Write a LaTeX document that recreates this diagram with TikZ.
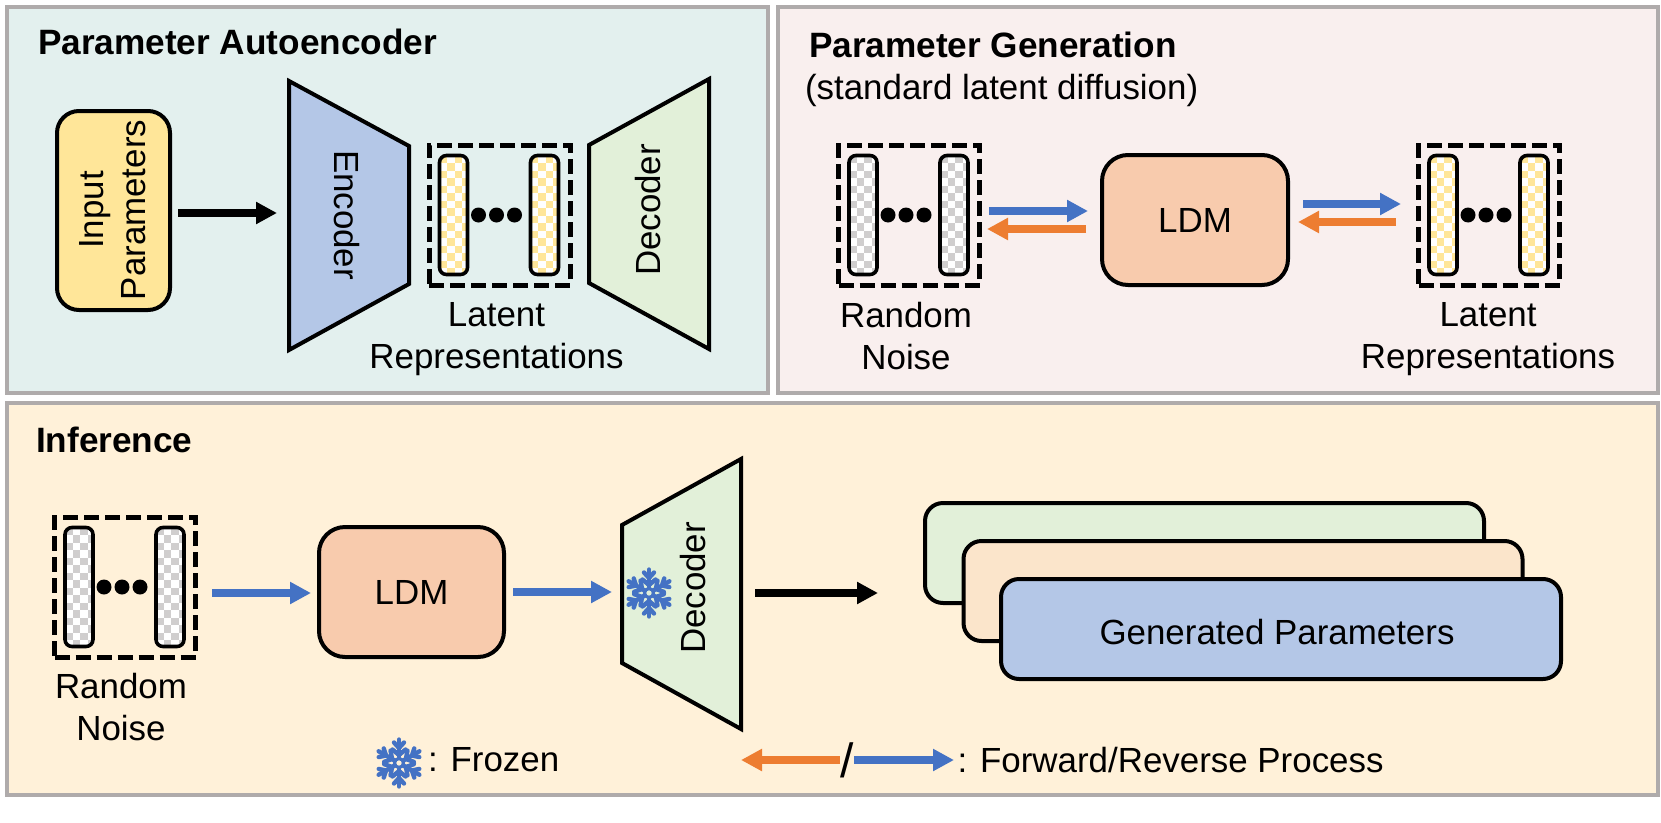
\documentclass[tikz,border=0pt]{standalone}
\usepackage{fontspec}
\setmainfont{Liberation Sans}
\usepackage{tikz}
\usetikzlibrary{arrows.meta,positioning,calc}

\definecolor{panelline}{HTML}{AFABAB}
\definecolor{paneltea}{HTML}{E3F0EE}
\definecolor{panelrose}{HTML}{F9EFEE}
\definecolor{panelcream}{HTML}{FFF1D9}
\definecolor{encblue}{HTML}{B4C7E7}
\definecolor{decgreen}{HTML}{E2F0D9}
\definecolor{inputyellow}{HTML}{FFE699}
\definecolor{ldmorange}{HTML}{F8CBAD}
\definecolor{stackpeach}{HTML}{FBE5CB}
\definecolor{checkgray}{HTML}{D0CECE}
\definecolor{fwdblue}{HTML}{4472C4}
\definecolor{revorange}{HTML}{ED7D31}

\tikzset{
  every node/.style={font=\fontsize{34.9}{41.5}\selectfont, inner sep=0pt, outer sep=0pt, align=center},
  title/.style={font=\fontsize{35.2}{41.5}\selectfont\bfseries, anchor=base west},
  plain/.style={anchor=base west},
  panel/.style={draw=panelline, line width=4pt},
  block/.style={draw=black, line width=4pt, rounded corners=#1},
  trap/.style={draw=black, line width=4pt, miter limit=10},
  dashbox/.style={draw=black, line width=5pt, dash pattern=on 15pt off 6pt, minimum width=141pt, minimum height=140pt},
  blackarrow/.style={draw=black, line width=7.5pt, -{Triangle[length=21pt,width=21pt]}},
  fwdarrow/.style={draw=fwdblue, line width=7.5pt, -{Triangle[length=21pt,width=21pt]}},
  revarrow/.style={draw=revorange, line width=7.5pt, -{Triangle[length=21pt,width=21pt]}},
  pics/snowflake/.style={code={
    \foreach \a in {30,90,150,210,270,330} {
      \begin{scope}[rotate=\a, draw=fwdblue, line width=4.4pt, line cap=round]
        \draw (6,0) -- (23.5,0);
        \draw (13.5,6.5) -- (8,0) -- (13.5,-6.5);
        \draw (20.5,5) -- (15,0) -- (20.5,-5);
      \end{scope}
    }
    \draw[fwdblue, line width=3.2pt] (0,0) circle (4.5);
  }}
}

% dashed box holding two checkered bars and three dots
\newcommand{\latentgroup}[4]{
  \node (#1) [dashbox] at (#2,#3) {};
  \foreach \bx in {-46,45} {
    \begin{scope}[shift={(#2+\bx,#3)}]
      \begin{scope}
        \clip [rounded corners=7pt] (-14,-59.5) rectangle (14,59.5);
        \fill [white] (-14,-59.5) rectangle (14,59.5);
        \foreach \i in {0,...,3} \foreach \j in {0,...,15} {
          \pgfmathtruncatemacro{\cell}{mod(\i+\j,2)}
          \ifnum\cell=0 \fill [#4] (-14+\i*7.5,-59.5+\j*7.5) rectangle ++(7.5,7.5); \fi
        }
      \end{scope}
      \draw [draw=black, line width=3.6pt, rounded corners=7pt] (-14,-59.5) rectangle (14,59.5);
    \end{scope}
  }
  \foreach \dx in {-21,-3,15} \fill [black] (#2+\dx,#3) circle (7.5);
}

\begin{document}
\begin{tikzpicture}[x=1pt,y=-1pt]
  \useasboundingbox (0,0) rectangle (1661,822);

  % the three panels
  \fill [white] (0,0) rectangle (1661,822);
  \draw [panel, fill=paneltea] (7,6.5) rectangle (768,393);
  \draw [panel, fill=panelrose] (778,6.5) rectangle (1658,393);
  \draw [panel, fill=panelcream] (7,403) rectangle (1658,795);

  \node (titleae) [title] at (38,54) {Parameter Autoencoder};
  \node (titlegen) [title] at (809,57) {Parameter Generation};
  \node (subgen) [plain] at (805,99) {(standard latent diffusion)};
  \node (titleinf) [title] at (36,452) {Inference};

  % autoencoder
  \node (inputs) [block=22pt, fill=inputyellow, minimum width=113pt, minimum height=199pt] at (113.5,210.5) {};
  \node (inputtext) [rotate=90] at (112.5,210) {Input\\Parameters};
  \draw [trap, fill=encblue] (289,81) -- (409,146) -- (409,284) -- (289,350) -- cycle;
  \coordinate (encin) at (289,213);
  \node (enctext) [rotate=-90] at (347,215) {Encoder};
  \latentgroup{latentae}{499.5}{215}{inputyellow}
  \draw [trap, fill=decgreen] (589,145) -- (709,79) -- (709,349) -- (589,283) -- cycle;
  \node (dectext) [rotate=90] at (648,210) {Decoder};
  \node (latentaetext) at (496.5,339) {Latent\\Representations};
  \draw [blackarrow, shorten >=12pt] ([xshift=8pt,yshift=-2.5pt]inputs.east) -- (encin);

  % latent diffusion
  \latentgroup{noisegen}{909}{215}{checkgray}
  \node (ldmgen) [block=26pt, fill=ldmorange, minimum width=186pt, minimum height=130pt] at (1195,220) {LDM};
  \latentgroup{latentgen}{1489}{215}{inputyellow}
  \node (noisegentext) at (906,336) {Random\\Noise};
  \node (latentgentext) at (1488,339) {Latent\\Representations};
  \draw [fwdarrow] ([xshift=9.5pt,yshift=4pt]noisegen.east) -- ([xshift=-14pt,yshift=9pt]ldmgen.west);
  \draw [revarrow] ([xshift=-16pt,yshift=-9pt]ldmgen.west) -- ([xshift=7.5pt,yshift=-14pt]noisegen.east);
  \draw [fwdarrow] ([xshift=15pt,yshift=16pt]ldmgen.east) -- ([xshift=-17.5pt,yshift=11pt]latentgen.west);
  \draw [revarrow] ([xshift=-22.5pt,yshift=-7pt]latentgen.west) -- ([xshift=10pt,yshift=-2pt]ldmgen.east);

  % inference
  \latentgroup{noiseinf}{125}{587}{checkgray}
  \node (noiseinftext) at (121,707) {Random\\Noise};
  \node (ldminf) [block=26pt, fill=ldmorange, minimum width=185pt, minimum height=130pt] at (411.5,592) {LDM};
  \draw [trap, fill=decgreen] (622,525) -- (741,459) -- (741,729) -- (622,663) -- cycle;
  \coordinate (decin) at (622,592);
  \coordinate (decout) at (741,593);
  \node (decinftext) [rotate=90] at (693,588) {Decoder};
  \pic at (649,593) {snowflake};
  \node (backstack) [block=18pt, fill=decgreen, minimum width=559pt, minimum height=100pt] at (1204.5,553) {};
  \node (midstack) [block=18pt, fill=stackpeach, minimum width=559pt, minimum height=100pt] at (1243,591) {};
  \node (frontstack) [block=18pt, fill=encblue, minimum width=560pt, minimum height=100pt] at (1281,629) {};
  \node (gentext) at (1277,632) {Generated Parameters};
  \draw [fwdarrow] ([xshift=16.5pt,yshift=-6pt]noiseinf.east) -- ([xshift=-8pt,yshift=-1pt]ldminf.west);
  \draw [fwdarrow] ([xshift=9pt]ldminf.east) -- ($(decin)+(-10,0)$);
  \draw [blackarrow] ($(decout)+(14,0)$) -- ($(decout)+(137,0)$);

  % legend
  \pic at (399,763) {snowflake};
  \node (frozen) [plain] at (428,771) {: Frozen};
  \node (slash) [font=\fontsize{48}{48}\selectfont] at (847.5,760) {/};
  \draw [revarrow] ([xshift=-7.5pt]slash.center) -- ([xshift=-106.5pt]slash.center);
  \draw [fwdarrow] ([xshift=6.5pt]slash.center) -- ([xshift=106.5pt]slash.center);
  \node (process) [plain] at (957.5,772) {: Forward/Reverse Process};
\end{tikzpicture}
\end{document}
